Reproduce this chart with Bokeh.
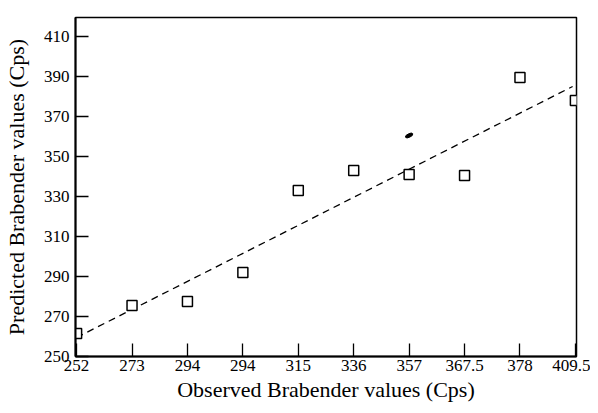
from bokeh.plotting import figure
from bokeh.models import Range1d, FixedTicker, ColumnDataSource
from bokeh.embed import file_html
from bokeh.resources import INLINE

# ---- data ----
x_labels = ["252", "273", "294", "294", "315", "336", "357", "367.5", "378", "409.5"]
x_pos = list(range(len(x_labels)))
predicted = [261.5, 275.5, 277.5, 292, 333, 343, 341, 340.5, 389.5, 378]
y_ticks = [250, 270, 290, 310, 330, 350, 370, 390, 410]

fit_x = [0, 8.95]
fit_y = [259.5, 385]

blob_x = [6.0]
blob_y = [360.5]

FONT = "Liberation Serif"

p = figure(width=590, height=405, output_backend="svg", toolbar_location=None,
           x_range=Range1d(-0.02, 9.02), y_range=Range1d(250, 419.5),
           min_border_left=75, min_border_right=14, min_border_top=17, min_border_bottom=49)
p.xgrid.visible = False
p.ygrid.visible = False
p.background_fill_color = "white"
p.border_fill_color = "white"
p.outline_line_color = "black"
p.outline_line_width = 1.5

# fitted line
p.line(fit_x, fit_y, line_color="black", line_width=1.3, line_dash="7 5")

# points
src = ColumnDataSource(dict(x=x_pos, y=predicted))
p.scatter("x", "y", source=src, marker="square", size=10, fill_color="white",
          line_color="black", line_width=1.5)

# small dark mark
p.ellipse(blob_x, blob_y, width=8, height=3.5, angle=0.45,
          width_units="screen", height_units="screen", fill_color="black", line_color="black")

# axes
xa = p.xaxis[0]
xa.ticker = FixedTicker(ticks=x_pos)
xa.major_label_overrides = {i: lab for i, lab in zip(x_pos, x_labels)}
xa.axis_label = "Observed Brabender values (Cps)"
ya = p.yaxis[0]
ya.ticker = FixedTicker(ticks=y_ticks)
ya.axis_label = "Predicted Brabender values (Cps)"

for ax in (xa, ya):
    ax.axis_line_width = 2
    ax.axis_line_color = "black"
    ax.major_tick_in = 13
    ax.major_tick_out = 0
    ax.major_tick_line_width = 1.3
    ax.major_tick_line_color = "black"
    ax.minor_tick_line_color = None
    ax.major_label_text_font = FONT
    ax.major_label_text_font_size = "17px"
    ax.major_label_text_color = "black"
    ax.axis_label_text_font = FONT
    ax.axis_label_text_font_size = "22px"
    ax.axis_label_text_font_style = "normal"
    ax.axis_label_text_color = "black"

xa.major_label_standoff = 3
xa.axis_label_standoff = 3
ya.major_label_standoff = 6
ya.axis_label_standoff = 12

open("out.html", "w").write(file_html(p, INLINE))
